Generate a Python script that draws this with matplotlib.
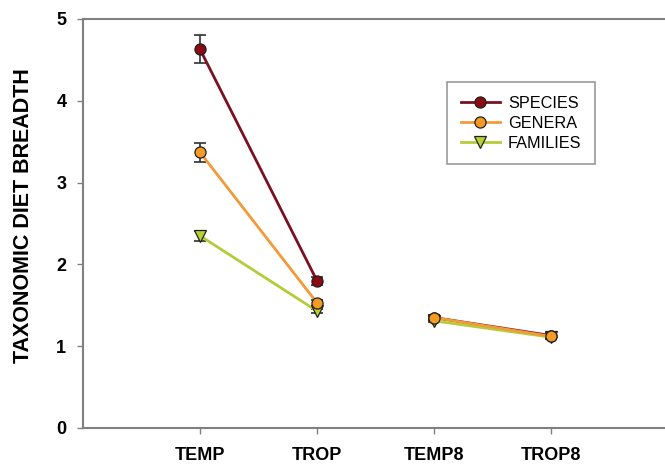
import matplotlib.pyplot as plt
import numpy as np

plt.rcParams['font.family'] = ['Liberation Sans', 'DejaVu Sans']

groups = ["TEMP", "TROP", "TEMP8", "TROP8"]
species = [4.63, 1.80, 1.35, 1.13]
species_err = [0.17, 0.05, 0.03, 0.03]
genera = [3.37, 1.53, 1.35, 1.12]
genera_err = [0.12, 0.04, 0.03, 0.03]
families = [2.35, 1.43, 1.31, 1.11]
families_err = [0.06, 0.03, 0.02, 0.02]

series = [
    ("SPECIES", species, species_err, "#8b0a14", "#7a1020", "o"),
    ("FAMILIES", families, families_err, "#b8d030", "#b5cc3a", "v"),
    ("GENERA", genera, genera_err, "#f59a22", "#f29a3a", "o"),
]

fig = plt.figure(figsize=(6.65, 4.66), dpi=100)
ax = fig.add_axes([83 / 665, 38 / 466, 585 / 665, 409 / 466])

x = np.arange(1, len(groups) + 1)
handles = {}
for name, vals, errs, fc, lc, mk in series:
    vals = np.array(vals)
    errs = np.array(errs)
    for seg in (slice(0, 2), slice(2, 4)):
        ax.errorbar(x[seg], vals[seg], yerr=errs[seg], fmt='none',
                    ecolor="#303030", elinewidth=1.2, capsize=4.5, capthick=1.2, zorder=2)
        h, = ax.plot(x[seg], vals[seg], color=lc, lw=2, marker=mk, ms=8,
                     mfc=fc, mec="#202020", mew=0.9, zorder=3)
    handles[name] = h

ax.set_xlim(0, 5)
ax.set_ylim(0, 5)
ax.set_xticks(x)
ax.set_xticklabels(groups, fontsize=13, fontweight='bold')
ax.set_yticks(range(6))
ax.set_yticklabels([str(i) for i in range(6)], fontsize=13, fontweight='bold')
ax.set_ylabel("TAXONOMIC DIET BREADTH", fontsize=15.5, fontweight='bold')
ax.yaxis.set_label_coords(-0.083, 0.52)

for s in ("left", "bottom", "top"):
    ax.spines[s].set_color("#808080")
    ax.spines[s].set_linewidth(1.5)
ax.spines["right"].set_visible(False)
ax.tick_params(axis='both', colors="#808080", length=4, width=1, labelcolor="black")
ax.tick_params(axis='x', pad=10)
ax.tick_params(axis='y', pad=8)

leg = ax.legend([handles["SPECIES"], handles["GENERA"], handles["FAMILIES"]],
                ["SPECIES", "GENERA", "FAMILIES"],
                loc='upper left', bbox_to_anchor=(0.622, 0.846), fontsize=11.7,
                frameon=True, fancybox=False, edgecolor="#808080",
                handlelength=2.4, borderpad=0.85, labelspacing=0.3,
                handletextpad=0.5, borderaxespad=0)
leg.get_frame().set_linewidth(1.2)

fig.savefig("out.png", dpi=100)
